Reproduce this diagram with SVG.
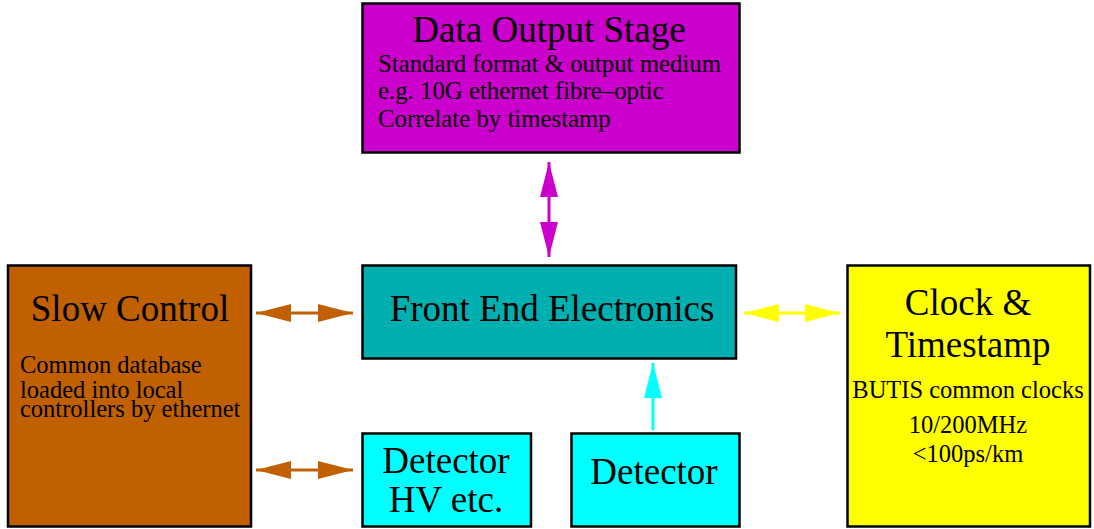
<svg xmlns="http://www.w3.org/2000/svg" width="1094" height="529" viewBox="0 0 1094 529">
<style>
.box{stroke:#000;stroke-width:2.5}
text{font-family:"Liberation Serif","Times New Roman",serif;fill:#000}
.t{font-size:37px;text-anchor:middle}
.b{font-size:24.5px}
.bd{font-size:24.8px}
.bc{font-size:24.5px;text-anchor:middle}
.c{stroke-width:3;fill:none}
</style>
<defs>
<marker id="aM" markerUnits="userSpaceOnUse" markerWidth="35" markerHeight="18" refX="35" refY="9" orient="auto-start-reverse"><path d="M0,0L35,9L0,18z" fill="#CC00CC"/></marker>
<marker id="aO" markerUnits="userSpaceOnUse" markerWidth="35" markerHeight="18" refX="35" refY="9" orient="auto-start-reverse"><path d="M0,0L35,9L0,18z" fill="#C06000"/></marker>
<marker id="aY" markerUnits="userSpaceOnUse" markerWidth="35" markerHeight="18" refX="35" refY="9" orient="auto-start-reverse"><path d="M0,0L35,9L0,18z" fill="#FFFF00"/></marker>
<marker id="aC" markerUnits="userSpaceOnUse" markerWidth="35" markerHeight="18" refX="35" refY="9" orient="auto-start-reverse"><path d="M0,0L35,9L0,18z" fill="#00FFFF"/></marker>
</defs>
<rect width="1094" height="529" fill="#fff"/>
<g id="data-output">
<rect class="box" x="362.5" y="3.5" width="377" height="149" fill="#CC00CC"/>
<text class="t" x="549" y="42">Data Output Stage</text>
<text class="bd" x="378" y="72">Standard format &amp; output medium</text>
<text class="bd" x="378" y="99">e.g. 10G ethernet fibre&#8211;optic</text>
<text class="bd" x="378" y="127">Correlate by timestamp</text>
</g>
<g id="slow-control">
<rect class="box" x="8" y="265.5" width="243" height="261" fill="#C06000"/>
<text class="t" x="130" y="321">Slow Control</text>
<text class="b" x="20" y="373">Common database</text>
<text class="b" x="20" y="398">loaded into local</text>
<text class="b" x="20" y="417">controllers by ethernet</text>
</g>
<g id="front-end">
<rect class="box" x="362.5" y="265.5" width="373.5" height="93" fill="#00AFAF"/>
<text class="t" x="552" y="321">Front End Electronics</text>
</g>
<g id="clock">
<rect class="box" x="847.5" y="265.5" width="242.5" height="261" fill="#FFFF00"/>
<text class="t" x="968" y="315">Clock &amp;</text>
<text class="t" x="968" y="357">Timestamp</text>
<text class="bc" x="968" y="398">BUTIS common clocks</text>
<text class="bc" x="968" y="433">10/200MHz</text>
<text class="bc" x="968" y="462">&lt;100ps/km</text>
</g>
<g id="detector-hv">
<rect class="box" x="362.5" y="433.5" width="168.5" height="93" fill="#00FFFF"/>
<text class="t" x="446" y="473">Detector</text>
<text class="t" x="446" y="512">HV etc.</text>
</g>
<g id="detector">
<rect class="box" x="571.5" y="433.5" width="168" height="93" fill="#00FFFF"/>
<text class="t" x="654" y="484">Detector</text>
</g>
<g id="connectors">
<line class="c" x1="549" y1="162" x2="549" y2="257" stroke="#CC00CC" marker-start="url(#aM)" marker-end="url(#aM)"/>
<line class="c" x1="256" y1="313" x2="353" y2="313" stroke="#C06000" marker-start="url(#aO)" marker-end="url(#aO)"/>
<line class="c" x1="256" y1="470" x2="353" y2="470" stroke="#C06000" marker-start="url(#aO)" marker-end="url(#aO)"/>
<line class="c" x1="744" y1="313" x2="840" y2="313" stroke="#FFFF00" marker-start="url(#aY)" marker-end="url(#aY)"/>
<line class="c" x1="653" y1="430" x2="653" y2="363" stroke="#00FFFF" marker-end="url(#aC)"/>
</g>
</svg>
